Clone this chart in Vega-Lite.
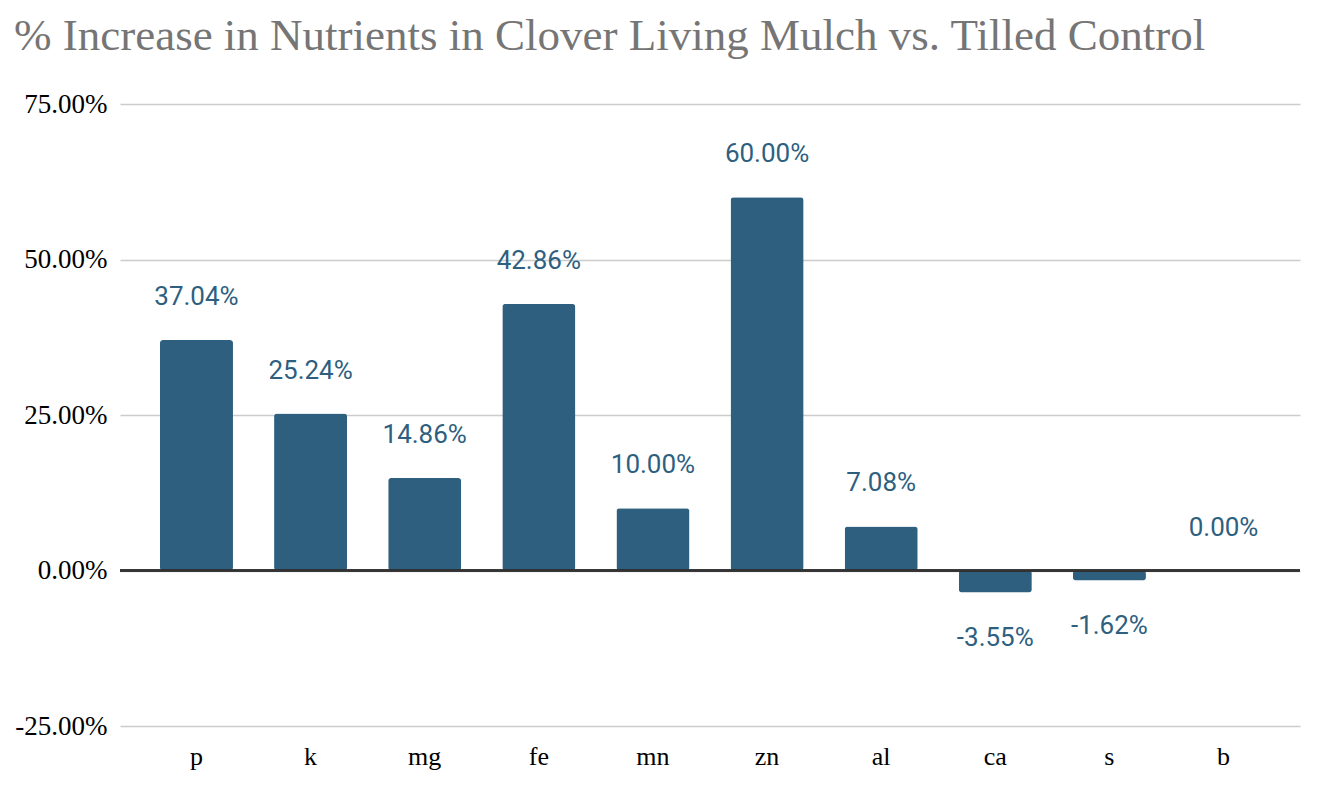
{
  "$schema": "https://vega.github.io/schema/vega-lite/v6.json",
  "autosize": "none",
  "width": 1180,
  "height": 622,
  "padding": {"left": 120, "top": 104, "right": 22, "bottom": 70},
  "background": "white",
  "title": {
    "text": "% Increase in Nutrients in Clover Living Mulch vs. Tilled Control",
    "anchor": "start",
    "frame": "group",
    "font": "Liberation Serif",
    "fontSize": 45,
    "fontWeight": "normal",
    "color": "#757575",
    "dx": -106,
    "offset": 31
  },
  "data": {
    "values": [
      {"nutrient": "p", "pct": 0.3704},
      {"nutrient": "k", "pct": 0.2524},
      {"nutrient": "mg", "pct": 0.1486},
      {"nutrient": "fe", "pct": 0.4286},
      {"nutrient": "mn", "pct": 0.1000},
      {"nutrient": "zn", "pct": 0.6000},
      {"nutrient": "al", "pct": 0.0708},
      {"nutrient": "ca", "pct": -0.0355},
      {"nutrient": "s", "pct": -0.0162},
      {"nutrient": "b", "pct": 0.0}
    ]
  },
  "encoding": {
    "x": {
      "field": "nutrient",
      "type": "nominal",
      "sort": null,
      "title": null,
      "scale": {"paddingInner": 0.36, "paddingOuter": 0.35},
      "axis": {
        "domain": false,
        "ticks": false,
        "labelAngle": 0,
        "labelFont": "Liberation Serif",
        "labelFontSize": 26,
        "labelColor": "#000000",
        "labelPadding": 17,
        "grid": false
      }
    },
    "y": {
      "field": "pct",
      "type": "quantitative",
      "title": null,
      "scale": {"domain": [-0.25, 0.75], "nice": false, "zero": false},
      "axis": {
        "values": [-0.25, 0, 0.25, 0.5, 0.75],
        "format": ".2%",
        "domain": false,
        "ticks": false,
        "labelFont": "Liberation Serif",
        "labelFontSize": 27,
        "labelColor": "#000000",
        "labelPadding": 13,
        "grid": true,
        "gridColor": "#cccccc",
        "gridWidth": 1.5
      }
    }
  },
  "layer": [
    {
      "mark": {"type": "bar", "color": "#2e5f7f", "cornerRadius": 3}
    },
    {
      "mark": {"type": "rule", "color": "#333333", "strokeWidth": 1.5},
      "encoding": {"y": {"datum": 0}, "x": null}
    },
    {
      "transform": [{"filter": "datum.pct >= 0"}],
      "mark": {"type": "text", "font": "Roboto", "fontSize": 26, "color": "#2e5f7f", "baseline": "middle", "dy": -43},
      "encoding": {"text": {"field": "pct", "type": "quantitative", "format": ".2%"}}
    },
    {
      "transform": [{"filter": "datum.pct < 0"}],
      "mark": {"type": "text", "font": "Roboto", "fontSize": 26, "color": "#2e5f7f", "baseline": "middle", "dy": 45},
      "encoding": {"text": {"field": "pct", "type": "quantitative", "format": ".2%"}}
    }
  ],
  "config": {
    "view": {"stroke": null},
    "locale": {
      "number": {"decimal": ".", "thousands": ",", "grouping": [3], "currency": ["$", ""], "minus": "-"}
    }
  }
}
